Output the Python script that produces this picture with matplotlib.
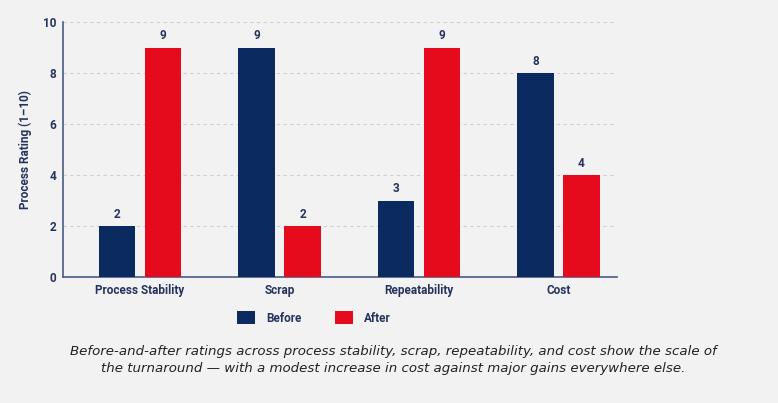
import matplotlib
matplotlib.use("Agg")
import matplotlib.pyplot as plt
from matplotlib.patches import Patch
import numpy as np

categories = ["Process Stability", "Scrap", "Repeatability", "Cost"]
before = [2, 9, 3, 8]
after = [9, 2, 9, 4]
yticks = [0, 2, 4, 6, 8, 10]

BG = "#f2f2f2"
NAVY = "#0b2a5f"
RED = "#e50a1c"
TXT = "#26335f"

fig = plt.figure(figsize=(7.78, 4.03), dpi=100, facecolor=BG)
ax = fig.add_axes([63/778, 1-277/403, (617-63)/778, (277-22)/403])
ax.set_facecolor(BG)

x = np.arange(len(categories))
w = 0.26
off = 0.165
b1 = ax.bar(x - off, before, w, color=NAVY, zorder=3)
b2 = ax.bar(x + off, after, w, color=RED, zorder=3)

for bars, vals in ((b1, before), (b2, after)):
    for r, v in zip(bars, vals):
        ax.text(r.get_x() + r.get_width()/2, v + 0.2, str(v), ha="center", va="bottom",
                fontsize=8.5, fontweight="bold", family="Roboto", color=TXT)

ax.set_xlim(-0.553, 3.42)
ax.set_ylim(0, 10)
ax.set_yticks(yticks)
ax.set_xticks(x)
ax.set_xticklabels(categories)
ax.yaxis.grid(True, color="#cfcfcf", linestyle=(0, (3, 3)), linewidth=0.8, zorder=0)
for s in ("top", "right"):
    ax.spines[s].set_visible(False)
for s in ("left", "bottom"):
    ax.spines[s].set_color("#4a5a85")
    ax.spines[s].set_linewidth(1.2)
ax.tick_params(axis="both", length=0, pad=5, colors=TXT, labelsize=8.5)
for lab in ax.get_xticklabels() + ax.get_yticklabels():
    lab.set_family("Roboto")
    lab.set_fontweight("bold")
ax.set_ylabel("Process Rating (1–10)", family="Roboto", fontweight="bold",
              fontsize=8.5, color=TXT, labelpad=8)

handles = [Patch(facecolor=NAVY, label="Before"), Patch(facecolor=RED, label="After")]
leg = fig.legend(handles=handles, loc="center", bbox_to_anchor=(314/778, 1-318/403),
                 ncol=2, frameon=False, handlelength=1.5, handleheight=1.3,
                 columnspacing=2.9, handletextpad=0.9,
                 prop={"family": "Roboto", "weight": "bold", "size": 8.5})
for t in leg.get_texts():
    t.set_color(TXT)

fig.text(393/778, 1-360/403,
         "Before-and-after ratings across process stability, scrap, repeatability, and cost show the scale of\n"
         "the turnaround — with a modest increase in cost against major gains everywhere else.",
         ha="center", va="center", fontsize=9.65, style="italic", family="DejaVu Sans",
         color="#222222", linespacing=1.35)

fig.savefig("out.png", dpi=100, facecolor=BG)
